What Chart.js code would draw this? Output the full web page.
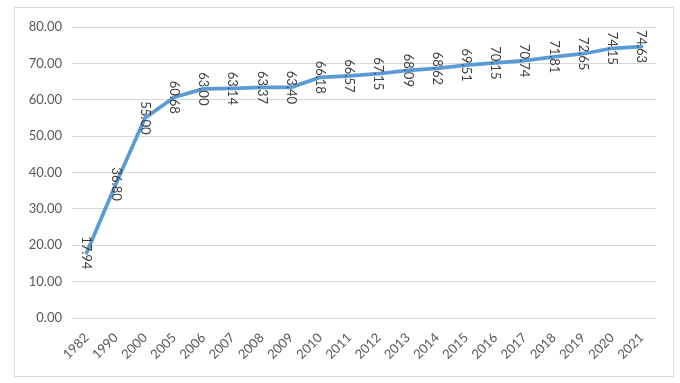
<!DOCTYPE html>
<html>
<head>
<meta charset="utf-8">
<script src="https://cdn.jsdelivr.net/npm/chart.js@4/dist/chart.umd.min.js"></script>
<style>
    html, body { margin: 0; padding: 0; background: #fff; }
    #box {
        position: absolute;
        left: 14px; top: 7px;
        width: 658px; height: 368px;
        border: 1px solid #d9d9d9;
    }
</style>
</head>
<body>
<div id="box"><canvas id="myChart" width="658" height="368"></canvas></div>
<script>
const years = ['1982', '1990', '2000', '2005', '2006', '2007', '2008', '2009', '2010', '2011',
    '2012', '2013', '2014', '2015', '2016', '2017', '2018', '2019', '2020', '2021'];
const values = [17.94, 36.80, 55.00, 60.68, 63.00, 63.14, 63.37, 63.40, 66.18, 66.57,
    67.15, 68.09, 68.62, 69.51, 70.15, 70.74, 71.81, 72.65, 74.15, 74.63];
const yTicks = [0, 10, 20, 30, 40, 50, 60, 70, 80];

// value labels, rotated 90deg, centred on each point
const valueLabels = {
    id: 'valueLabels',
    afterDatasetsDraw(chart) {
        const ctx = chart.ctx;
        const meta = chart.getDatasetMeta(0);
        ctx.save();
        ctx.font = '13px Lato';
        ctx.fillStyle = '#404040';
        ctx.textAlign = 'center';
        ctx.textBaseline = 'middle';
        meta.data.forEach((pt, i) => {
            ctx.save();
            ctx.translate(pt.x, pt.y);
            ctx.rotate(Math.PI / 2);
            ctx.fillText(values[i].toFixed(2), 0, 0);
            ctx.restore();
        });
        ctx.restore();
    }
};

const ctx = document.getElementById('myChart').getContext('2d');
const myChart = new Chart(ctx, {
    type: 'line',
    data: {
        labels: years,
        datasets: [{
            data: values,
            borderColor: '#5B9BD5',
            borderWidth: 3.75,
            pointRadius: 0,
            tension: 0,
            borderJoinStyle: 'round',
            borderCapStyle: 'round',
            fill: false
        }]
    },
    options: {
        responsive: false,
        animation: false,
        layout: { padding: { top: 19, right: 17, left: 0, bottom: 0 } },
        plugins: {
            legend: { display: false },
            tooltip: { enabled: false }
        },
        scales: {
            x: {
                offset: true,
                grid: { display: false },
                border: { display: false },
                ticks: {
                    autoSkip: false,
                    minRotation: 45,
                    maxRotation: 45,
                    padding: 4,
                    color: '#595959',
                    font: { family: 'Lato', size: 13 }
                },
                afterFit(scale) { scale.height = 58; }
            },
            y: {
                min: 0,
                max: 80,
                afterBuildTicks(scale) {
                    scale.ticks = yTicks.map(v => ({ value: v }));
                },
                grid: { color: '#d9d9d9', lineWidth: 1, drawTicks: false },
                border: { display: false },
                ticks: {
                    padding: 10,
                    color: '#595959',
                    font: { family: 'Lato', size: 13 },
                    callback: v => Number(v).toFixed(2)
                },
                afterFit(scale) { scale.width = 57; }
            }
        }
    },
    plugins: [valueLabels]
});
</script>
</body>
</html>
